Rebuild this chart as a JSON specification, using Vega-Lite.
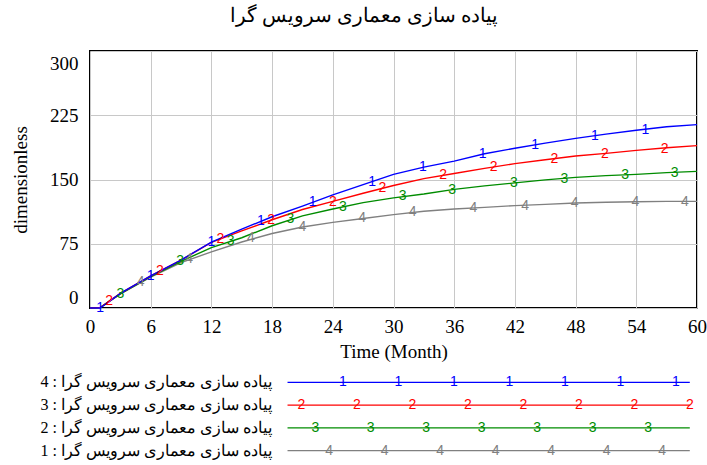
{
  "$schema": "https://vega.github.io/schema/vega-lite/v6.json",
  "padding": {"left": 10, "top": 6, "right": 5, "bottom": 0},
  "background": "white",
  "title": {"text": "پیاده سازی معماری سرویس گرا", "font": "Liberation Serif, Times New Roman, serif", "fontSize": 20, "fontWeight": "normal", "color": "black", "anchor": "middle", "offset": 24, "dx": 5},
  "config": {
    "axis": {"labelFont": "Liberation Serif, Times New Roman, serif", "titleFont": "Liberation Serif, Times New Roman, serif", "labelFontSize": 19, "titleFontSize": 19, "labelColor": "black", "titleColor": "black", "titleFontWeight": "normal", "gridColor": "#c8c8c8", "gridOpacity": 1, "gridWidth": 1, "ticks": false, "domain": false}
  },
  "datasets": {
    "series": [
      {"month": 0, "run": "4", "value": 0}, {"month": 1, "run": "4", "value": 0.5}, {"month": 3, "run": "4", "value": 16.5}, {"month": 6, "run": "4", "value": 36}, {"month": 9, "run": "4", "value": 53}, {"month": 12, "run": "4", "value": 65.5}, {"month": 15, "run": "4", "value": 77}, {"month": 18, "run": "4", "value": 87}, {"month": 21, "run": "4", "value": 94.5}, {"month": 24, "run": "4", "value": 100}, {"month": 27, "run": "4", "value": 104.5}, {"month": 30, "run": "4", "value": 109}, {"month": 33, "run": "4", "value": 113}, {"month": 36, "run": "4", "value": 115.5}, {"month": 39, "run": "4", "value": 117.5}, {"month": 42, "run": "4", "value": 119.5}, {"month": 45, "run": "4", "value": 121}, {"month": 48, "run": "4", "value": 122.5}, {"month": 51, "run": "4", "value": 123.5}, {"month": 54, "run": "4", "value": 124}, {"month": 57, "run": "4", "value": 124.5}, {"month": 60, "run": "4", "value": 124.5},
      {"month": 0, "run": "3", "value": 0}, {"month": 1, "run": "3", "value": 0.5}, {"month": 3, "run": "3", "value": 16.5}, {"month": 6, "run": "3", "value": 36.5}, {"month": 9, "run": "3", "value": 54.5}, {"month": 12, "run": "3", "value": 70.5}, {"month": 15, "run": "3", "value": 82}, {"month": 18, "run": "3", "value": 96}, {"month": 21, "run": "3", "value": 107.5}, {"month": 24, "run": "3", "value": 115.5}, {"month": 27, "run": "3", "value": 123}, {"month": 30, "run": "3", "value": 128.5}, {"month": 33, "run": "3", "value": 133}, {"month": 36, "run": "3", "value": 138.5}, {"month": 39, "run": "3", "value": 142.5}, {"month": 42, "run": "3", "value": 146}, {"month": 45, "run": "3", "value": 149.5}, {"month": 48, "run": "3", "value": 152.5}, {"month": 51, "run": "3", "value": 154.5}, {"month": 54, "run": "3", "value": 156}, {"month": 57, "run": "3", "value": 158}, {"month": 60, "run": "3", "value": 159.5},
      {"month": 0, "run": "2", "value": 0}, {"month": 1, "run": "2", "value": 0.5}, {"month": 3, "run": "2", "value": 17}, {"month": 6, "run": "2", "value": 37.5}, {"month": 9, "run": "2", "value": 56}, {"month": 12, "run": "2", "value": 76.5}, {"month": 15, "run": "2", "value": 90}, {"month": 18, "run": "2", "value": 103}, {"month": 21, "run": "2", "value": 115}, {"month": 24, "run": "2", "value": 124.5}, {"month": 27, "run": "2", "value": 134}, {"month": 30, "run": "2", "value": 143}, {"month": 33, "run": "2", "value": 151}, {"month": 36, "run": "2", "value": 157}, {"month": 39, "run": "2", "value": 163}, {"month": 42, "run": "2", "value": 168.5}, {"month": 45, "run": "2", "value": 173}, {"month": 48, "run": "2", "value": 177.5}, {"month": 51, "run": "2", "value": 180.5}, {"month": 54, "run": "2", "value": 184}, {"month": 57, "run": "2", "value": 187}, {"month": 60, "run": "2", "value": 189.5},
      {"month": 0, "run": "1", "value": 0}, {"month": 1, "run": "1", "value": 0}, {"month": 3, "run": "1", "value": 17}, {"month": 6, "run": "1", "value": 37.5}, {"month": 9, "run": "1", "value": 56}, {"month": 12, "run": "1", "value": 77}, {"month": 15, "run": "1", "value": 92}, {"month": 18, "run": "1", "value": 106.5}, {"month": 21, "run": "1", "value": 119}, {"month": 24, "run": "1", "value": 132}, {"month": 27, "run": "1", "value": 144}, {"month": 30, "run": "1", "value": 156}, {"month": 33, "run": "1", "value": 164.5}, {"month": 36, "run": "1", "value": 171.5}, {"month": 39, "run": "1", "value": 180}, {"month": 42, "run": "1", "value": 186.5}, {"month": 45, "run": "1", "value": 192.5}, {"month": 48, "run": "1", "value": 198}, {"month": 51, "run": "1", "value": 203}, {"month": 54, "run": "1", "value": 207.5}, {"month": 57, "run": "1", "value": 211.5}, {"month": 60, "run": "1", "value": 214}
    ],
    "markers": [
      {"run": "4", "month": 5, "value": 30.7}, {"run": "4", "month": 9.8, "value": 57.2}, {"run": "4", "month": 15.9, "value": 81.3}, {"run": "4", "month": 21, "value": 94.2}, {"run": "4", "month": 26.9, "value": 104.7}, {"run": "4", "month": 31.9, "value": 111.7}, {"run": "4", "month": 37.9, "value": 116.3}, {"run": "4", "month": 43, "value": 119.4}, {"run": "4", "month": 47.9, "value": 122.2}, {"run": "4", "month": 53.9, "value": 123.3}, {"run": "4", "month": 58.8, "value": 123.3},
      {"run": "3", "month": 3, "value": 16}, {"run": "3", "month": 8.9, "value": 55.2}, {"run": "3", "month": 13.9, "value": 78.6}, {"run": "3", "month": 19.8, "value": 103.9}, {"run": "3", "month": 25, "value": 117.5}, {"run": "3", "month": 30.9, "value": 130.3}, {"run": "3", "month": 35.8, "value": 138.1}, {"run": "3", "month": 41.9, "value": 145.9}, {"run": "3", "month": 46.9, "value": 150.5}, {"run": "3", "month": 52.9, "value": 155.2}, {"run": "3", "month": 57.8, "value": 157.6},
      {"run": "2", "month": 1.9, "value": 8.5}, {"run": "2", "month": 6.9, "value": 42.8}, {"run": "2", "month": 12.9, "value": 80.5}, {"run": "2", "month": 17.9, "value": 103}, {"run": "2", "month": 24, "value": 124}, {"run": "2", "month": 28.9, "value": 139.7}, {"run": "2", "month": 34.9, "value": 155.2}, {"run": "2", "month": 39.9, "value": 164.2}, {"run": "2", "month": 45.9, "value": 173.9}, {"run": "2", "month": 50.9, "value": 179.7}, {"run": "2", "month": 56.8, "value": 185.5},
      {"run": "1", "month": 1, "value": 0}, {"run": "1", "month": 6, "value": 37.7}, {"run": "1", "month": 12, "value": 77.4}, {"run": "1", "month": 16.9, "value": 101.9}, {"run": "1", "month": 22, "value": 123.3}, {"run": "1", "month": 27.9, "value": 147.4}, {"run": "1", "month": 32.9, "value": 164.2}, {"run": "1", "month": 38.8, "value": 179.7}, {"run": "1", "month": 44, "value": 190.2}, {"run": "1", "month": 49.9, "value": 201.1}, {"run": "1", "month": 54.9, "value": 208.1}
    ],
    "legendItems": [
      {"run": "1", "label": "4 : پیاده سازی معماری سرویس گرا"},
      {"run": "2", "label": "3 : پیاده سازی معماری سرویس گرا"},
      {"run": "3", "label": "2 : پیاده سازی معماری سرویس گرا"},
      {"run": "4", "label": "1 : پیاده سازی معماری سرویس گرا"}
    ],
    "legendMarks": [
      {"run": "1", "slot": 1}, {"run": "1", "slot": 2}, {"run": "1", "slot": 3}, {"run": "1", "slot": 4}, {"run": "1", "slot": 5}, {"run": "1", "slot": 6}, {"run": "1", "slot": 7},
      {"run": "2", "slot": 0.25}, {"run": "2", "slot": 1.25}, {"run": "2", "slot": 2.25}, {"run": "2", "slot": 3.25}, {"run": "2", "slot": 4.25}, {"run": "2", "slot": 5.25}, {"run": "2", "slot": 6.25}, {"run": "2", "slot": 7.25},
      {"run": "3", "slot": 0.5}, {"run": "3", "slot": 1.5}, {"run": "3", "slot": 2.5}, {"run": "3", "slot": 3.5}, {"run": "3", "slot": 4.5}, {"run": "3", "slot": 5.5}, {"run": "3", "slot": 6.5},
      {"run": "4", "slot": 0.75}, {"run": "4", "slot": 1.75}, {"run": "4", "slot": 2.75}, {"run": "4", "slot": 3.75}, {"run": "4", "slot": 4.75}, {"run": "4", "slot": 5.75}, {"run": "4", "slot": 6.75}
    ]
  },
  "bounds": "flush",
  "spacing": 63,
  "vconcat": [
    {
      "width": 607,
      "height": 257,
      "view": {"stroke": "black", "strokeWidth": 2},
      "layer": [
        {
          "data": {"name": "series"},
          "mark": {"type": "line", "strokeWidth": 1.4},
          "encoding": {
            "x": {"field": "month", "type": "quantitative", "scale": {"domain": [0, 60], "nice": false}, "axis": {"title": "Time (Month)", "values": [0, 3, 6, 9, 12, 15, 18, 21, 24, 27, 30, 33, 36, 39, 42, 45, 48, 51, 54, 57, 60], "labelExpr": "datum.value % 6 === 0 ? datum.label : ''", "labelOverlap": false, "labelFlush": false, "labelPadding": 9, "titlePadding": 6}},
            "y": {"field": "value", "type": "quantitative", "scale": {"domain": [0, 300], "nice": false}, "axis": {"title": "dimensionless", "values": [0, 75, 150, 225, 300], "labelFlush": false, "labelOffset": {"condition": [{"test": "datum.value === 0", "value": -11}, {"test": "datum.value === 300", "value": 12}], "value": 0}, "labelPadding": 12, "titlePadding": 19}},
            "color": {"field": "run", "type": "nominal", "scale": {"domain": ["1", "2", "3", "4"], "range": ["#0000ff", "#ff0000", "#008c00", "#808080"]}, "legend": null}
          }
        },
        {
          "data": {"name": "markers"},
          "mark": {"type": "text", "font": "Liberation Sans", "fontSize": 14, "baseline": "middle", "align": "center"},
          "encoding": {
            "x": {"field": "month", "type": "quantitative"},
            "y": {"field": "value", "type": "quantitative"},
            "text": {"field": "run"},
            "color": {"field": "run", "type": "nominal", "legend": null}
          }
        }
      ]
    },
    {
      "width": 607,
      "height": 91,
      "view": {"stroke": null},
      "layer": [
        {
          "data": {"name": "legendItems"},
          "mark": {"type": "rule", "strokeWidth": 1.4},
          "encoding": {
            "x": {"datum": 0, "type": "quantitative", "scale": {"domain": [-3.56, 7.38], "nice": false, "zero": false}, "axis": null},
            "x2": {"datum": 7.25},
            "y": {"field": "run", "type": "nominal", "scale": {"type": "point", "padding": 0.5, "domain": ["1", "2", "3", "4"]}, "axis": null},
            "color": {"field": "run", "type": "nominal", "legend": null}
          }
        },
        {
          "data": {"name": "legendMarks"},
          "mark": {"type": "text", "font": "Liberation Sans", "fontSize": 14, "baseline": "middle", "align": "center"},
          "encoding": {
            "x": {"field": "slot", "type": "quantitative"},
            "y": {"field": "run", "type": "nominal"},
            "text": {"field": "run"},
            "color": {"field": "run", "type": "nominal", "legend": null}
          }
        },
        {
          "data": {"name": "legendItems"},
          "mark": {"type": "text", "font": "Liberation Serif, Times New Roman, serif", "fontSize": 16, "baseline": "middle", "align": "right", "color": "black"},
          "encoding": {
            "x": {"datum": -0.28, "type": "quantitative"},
            "y": {"field": "run", "type": "nominal"},
            "text": {"field": "label"}
          }
        }
      ]
    }
  ]
}
